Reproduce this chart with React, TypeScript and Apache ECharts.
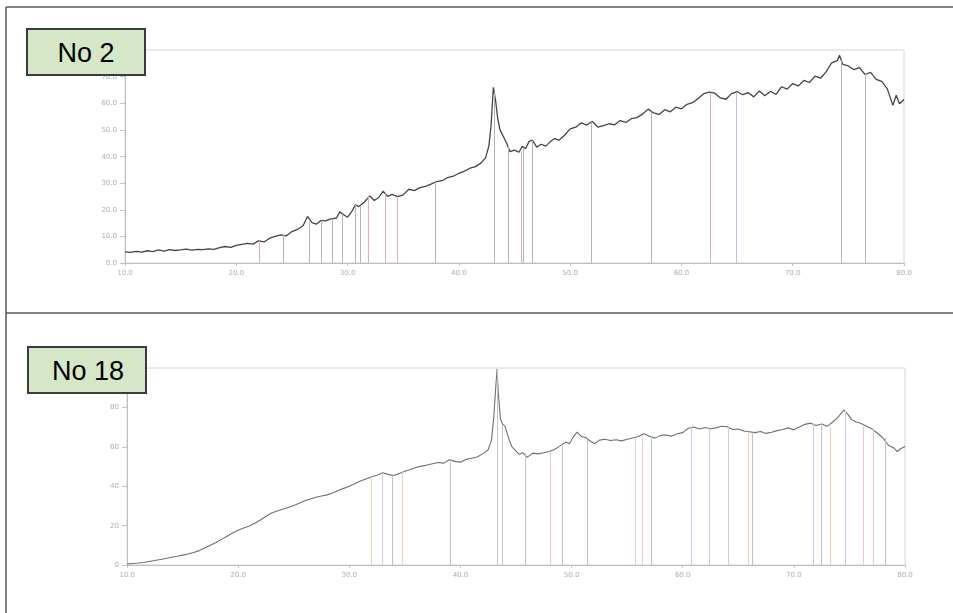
import React, { useEffect, useRef } from "react";
import * as echarts from "echarts";

// ---- No 2 pattern: [2θ, intensity] ----
const pattern2: [number, number][] = [
  [10.0, 4.2], [10.5, 4.0], [11.0, 4.4], [11.5, 4.1], [12.0, 4.6], [12.5, 4.3], [13.0, 4.9], [13.5, 4.5],
  [14.0, 5.0], [14.5, 4.7], [15.0, 4.9], [15.5, 5.2], [16.0, 4.8], [16.5, 5.1], [17.0, 5.0], [17.5, 5.3],
  [18.0, 5.1], [18.5, 5.8], [19.0, 6.2], [19.5, 5.9], [20.0, 6.6], [20.5, 7.0], [21.0, 7.4], [21.5, 7.1],
  [22.0, 8.3], [22.5, 7.9], [23.0, 9.3], [23.5, 10.0], [24.0, 10.6], [24.5, 10.2], [25.0, 11.8], [25.5, 12.6],
  [26.0, 14.0], [26.4, 17.5], [26.8, 15.2], [27.2, 14.6], [27.6, 16.0], [28.0, 15.8], [28.5, 16.6], [29.0, 16.9],
  [29.3, 19.2], [29.7, 18.0], [30.0, 17.2], [30.4, 19.5], [30.7, 21.8], [31.0, 21.2], [31.5, 22.8], [32.0, 25.2],
  [32.4, 23.5], [32.8, 24.6], [33.2, 27.0], [33.6, 25.0], [34.0, 25.8], [34.5, 24.9], [35.0, 25.6], [35.5, 27.7],
  [36.0, 27.2], [36.5, 28.3], [37.0, 28.8], [37.5, 29.6], [38.0, 30.6], [38.5, 30.9], [39.0, 32.1], [39.5, 32.6],
  [40.0, 33.7], [40.5, 34.5], [41.0, 35.6], [41.5, 36.2], [42.0, 37.6], [42.4, 39.5], [42.7, 44.0], [42.9, 52.0],
  [43.1, 66.0], [43.3, 61.0], [43.5, 54.0], [43.7, 50.0], [44.0, 47.5], [44.3, 45.0], [44.6, 41.8], [45.0, 42.4],
  [45.4, 41.6], [45.7, 43.8], [46.0, 42.9], [46.3, 45.6], [46.6, 46.2], [47.0, 43.5], [47.4, 44.6], [47.8, 43.9],
  [48.2, 45.5], [48.6, 46.8], [49.0, 46.1], [49.5, 48.0], [50.0, 50.4], [50.5, 51.0], [51.0, 52.6], [51.5, 51.8],
  [52.0, 53.2], [52.5, 51.0], [53.0, 51.6], [53.5, 52.3], [54.0, 51.9], [54.5, 53.5], [55.0, 52.8], [55.5, 54.2],
  [56.0, 54.6], [56.5, 55.9], [57.0, 57.8], [57.5, 56.4], [58.0, 55.8], [58.5, 57.6], [59.0, 56.8], [59.5, 58.5],
  [60.0, 57.9], [60.5, 59.6], [61.0, 60.2], [61.5, 61.8], [62.0, 63.6], [62.5, 64.2], [63.0, 63.8], [63.5, 62.0],
  [64.0, 61.5], [64.5, 63.6], [65.0, 64.4], [65.5, 63.2], [66.0, 64.0], [66.5, 62.4], [67.0, 64.6], [67.5, 62.8],
  [68.0, 64.5], [68.5, 63.3], [69.0, 66.2], [69.5, 65.3], [70.0, 67.4], [70.5, 66.5], [71.0, 68.6], [71.5, 67.8],
  [72.0, 70.2], [72.5, 69.4], [73.0, 71.8], [73.5, 75.2], [74.0, 76.0], [74.2, 78.0], [74.5, 74.6], [75.0, 74.0],
  [75.5, 72.6], [76.0, 73.4], [76.5, 70.8], [77.0, 71.6], [77.5, 69.0], [78.0, 68.2], [78.5, 65.4], [79.0, 59.2],
  [79.3, 63.0], [79.6, 59.8], [80.0, 61.4],
];

// reference peak positions (No 2): angle, height, phase (0 = main, 1 = second, 2 = third)
const peaks2Angle = [22.1, 24.2, 26.6, 27.6, 28.6, 29.5, 30.7, 31.1, 31.9, 33.4, 34.5, 37.9, 43.2, 44.4, 45.6, 45.8, 46.6, 51.9, 57.3, 62.6, 64.9, 74.4, 76.5];
const peaks2Height = [8.3, 10.5, 15.5, 16.0, 16.7, 18.5, 21.8, 21.5, 25.0, 26.0, 24.9, 30.5, 64.0, 44.0, 42.0, 43.0, 46.0, 53.0, 57.0, 64.0, 64.0, 76.0, 71.0];
const peaks2Phase = [1, 0, 0, 0, 0, 0, 0, 0, 1, 1, 1, 0, 0, 0, 1, 0, 0, 0, 0, 1, 2, 0, 0];

// ---- No 18 pattern ----
const pattern18: [number, number][] = [
  [10.0, 0.5], [10.5, 0.8], [11.0, 1.0], [11.5, 1.3], [12.0, 1.8], [12.5, 2.3], [13.0, 2.8], [13.5, 3.3],
  [14.0, 3.9], [14.5, 4.4], [15.0, 5.0], [15.5, 5.6], [16.0, 6.3], [16.5, 7.3], [17.0, 8.6], [17.5, 10.0],
  [18.0, 11.4], [18.5, 13.0], [19.0, 14.6], [19.5, 16.2], [20.0, 17.6], [20.5, 18.8], [21.0, 19.8], [21.5, 21.2],
  [22.0, 22.8], [22.5, 24.6], [23.0, 26.4], [23.5, 27.4], [24.0, 28.3], [24.5, 29.2], [25.0, 30.2], [25.5, 31.3],
  [26.0, 32.6], [26.5, 33.5], [27.0, 34.4], [27.5, 35.0], [28.0, 35.6], [28.5, 36.6], [29.0, 37.8], [29.5, 38.9],
  [30.0, 40.0], [30.5, 41.3], [31.0, 42.6], [31.5, 43.7], [32.0, 44.8], [32.5, 45.6], [33.0, 46.8], [33.5, 46.0],
  [34.0, 45.4], [34.5, 46.5], [35.0, 47.6], [35.5, 48.5], [36.0, 49.5], [36.5, 50.2], [37.0, 50.8], [37.5, 51.4],
  [38.0, 52.0], [38.5, 51.7], [39.0, 53.4], [39.5, 52.6], [40.0, 52.2], [40.5, 53.6], [41.0, 54.2], [41.5, 54.8],
  [42.0, 56.4], [42.5, 58.5], [42.8, 63.5], [43.0, 75.0], [43.2, 92.0], [43.3, 99.5], [43.4, 88.0], [43.6, 74.0],
  [43.8, 71.5], [44.0, 70.5], [44.3, 65.0], [44.6, 60.2], [45.0, 57.8], [45.3, 56.2], [45.6, 57.0], [46.0, 54.6],
  [46.5, 56.8], [47.0, 56.4], [47.5, 57.0], [48.0, 57.6], [48.5, 58.8], [49.0, 60.6], [49.5, 62.4], [49.8, 61.5],
  [50.2, 65.4], [50.5, 67.4], [50.9, 65.2], [51.3, 64.6], [51.7, 62.8], [52.1, 61.6], [52.5, 63.4], [53.0, 63.8],
  [53.5, 63.2], [54.0, 63.6], [54.5, 63.0], [55.0, 63.8], [55.5, 64.5], [56.0, 65.2], [56.5, 66.6], [57.0, 65.4],
  [57.5, 64.4], [58.0, 65.8], [58.5, 66.0], [59.0, 65.4], [59.5, 66.6], [60.0, 67.2], [60.5, 69.4], [61.0, 70.0],
  [61.5, 69.0], [62.0, 69.8], [62.5, 69.2], [63.0, 69.6], [63.5, 70.4], [64.0, 70.2], [64.5, 68.8], [65.0, 69.0],
  [65.5, 68.0], [66.0, 67.6], [66.5, 67.2], [67.0, 67.8], [67.5, 66.8], [68.0, 67.4], [68.5, 68.2], [69.0, 68.8],
  [69.5, 69.6], [70.0, 68.6], [70.5, 70.0], [71.0, 71.4], [71.5, 72.0], [72.0, 70.8], [72.5, 71.6], [73.0, 70.4],
  [73.5, 72.6], [74.0, 75.2], [74.5, 78.6], [74.8, 77.0], [75.2, 73.8], [75.6, 72.6], [76.0, 72.0], [76.5, 70.6],
  [77.0, 69.2], [77.5, 67.0], [78.0, 64.6], [78.5, 60.8], [79.0, 59.4], [79.3, 57.6], [79.6, 59.0], [80.0, 60.2],
];

const peaks18Angle = [32.0, 33.0, 33.9, 34.8, 39.1, 43.3, 43.8, 45.8, 48.1, 49.2, 51.4, 55.7, 56.4, 57.2, 60.8, 62.4, 64.1, 65.9, 66.3, 71.7, 72.5, 73.3, 74.6, 76.2, 77.1, 78.2];
const peaks18Height = [44.8, 46.8, 45.4, 47.4, 53.4, 99.5, 71.0, 56.8, 57.6, 60.6, 64.0, 64.5, 65.6, 65.4, 70.0, 69.2, 70.2, 67.6, 67.2, 72.0, 71.6, 70.4, 78.4, 71.0, 69.2, 64.6];
const peaks18Phase = [1, 3, 0, 1, 0, 0, 0, 0, 3, 0, 0, 3, 3, 0, 2, 2, 2, 1, 0, 2, 0, 1, 2, 3, 3, 0];

const PHASE2 = ["#b4b4b4", "#dcb0b8", "#b9c4dc"];
const PHASE18 = ["#c4c4c4", "#f2d2b6", "#cacae6", "#efc9d0"];

function stickLines(angles: number[], heights: number[], phases: number[], palette: string[]) {
  return angles.map((a, i) => [
    { coord: [a, 0], lineStyle: { color: palette[phases[i]] } },
    { coord: [a, heights[i]] },
  ]);
}

export default function App() {
  const ref = useRef<HTMLDivElement>(null);
  useEffect(() => {
    document.body.style.margin = "0";
    const chart = echarts.init(ref.current!, null, { renderer: "svg" });
    const axisLabel = { fontSize: 7, color: "#b0b0b0", fontFamily: "DejaVu Sans" };
    const xAxisBase = {
      type: "value" as const,
      min: 10,
      max: 80,
      interval: 10,
      axisLine: { show: true, lineStyle: { color: "#c0c0c0" } },
      axisTick: { show: true, length: 3, lineStyle: { color: "#c4c4c4" } },
      splitLine: { show: false },
      axisLabel: { ...axisLabel, margin: 6, formatter: (v: number) => v.toFixed(1) },
    };
    const yAxisBase = {
      type: "value" as const,
      axisLine: { show: true, lineStyle: { color: "#c0c0c0" } },
      axisTick: { show: true, length: 5, lineStyle: { color: "#c4c4c4" } },
      splitLine: { show: false },
    };
    const option: any = {
      animation: false,
      backgroundColor: "#fff",
      grid: [
        { left: 125, top: 50, width: 779, height: 213, show: true, borderColor: "#d4d4d4", borderWidth: 1, backgroundColor: "transparent" },
        { left: 127, top: 368, width: 778, height: 197, show: true, borderColor: "#d4d4d4", borderWidth: 1, backgroundColor: "transparent" },
      ],
      xAxis: [
        { ...xAxisBase, gridIndex: 0 },
        { ...xAxisBase, gridIndex: 1 },
      ],
      yAxis: [
        {
          ...yAxisBase, gridIndex: 0, min: 0, max: 80, interval: 10,
          axisLabel: { ...axisLabel, margin: 8, showMaxLabel: false, formatter: (v: number) => v.toFixed(1) },
        },
        {
          ...yAxisBase, gridIndex: 1, min: 0, max: 100, interval: 20,
          axisLabel: { ...axisLabel, margin: 8, showMaxLabel: false },
        },
      ],
      series: [
        {
          type: "line", xAxisIndex: 0, yAxisIndex: 0, data: pattern2, showSymbol: false, symbol: "none",
          lineStyle: { color: "#454545", width: 1.3 }, z: 3,
          markLine: {
            silent: true, symbol: ["none", "none"], label: { show: false },
            lineStyle: { type: "solid", width: 1 },
            data: stickLines(peaks2Angle, peaks2Height, peaks2Phase, PHASE2),
          },
        },
        {
          type: "line", xAxisIndex: 1, yAxisIndex: 1, data: pattern18, showSymbol: false, symbol: "none",
          lineStyle: { color: "#707070", width: 1.1 }, z: 3,
          markLine: {
            silent: true, symbol: ["none", "none"], label: { show: false },
            lineStyle: { type: "solid", width: 1 },
            data: stickLines(peaks18Angle, peaks18Height, peaks18Phase, PHASE18),
          },
        },
      ],
      graphic: [
        { type: "line", z: 50, shape: { x1: 6, y1: 7, x2: 953, y2: 7 }, style: { stroke: "#5a5a5a", lineWidth: 1.5 } },
        { type: "line", z: 50, shape: { x1: 6, y1: 7, x2: 6, y2: 613 }, style: { stroke: "#5a5a5a", lineWidth: 1.5 } },
        { type: "line", z: 50, shape: { x1: 6, y1: 313, x2: 953, y2: 313 }, style: { stroke: "#5a5a5a", lineWidth: 1.5 } },
        { type: "rect", z: 100, shape: { x: 27, y: 29, width: 118, height: 46 }, style: { fill: "#d5e7c6", stroke: "#3c3c3c", lineWidth: 2 } },
        {
          type: "text", z: 101, x: 86, y: 53,
          style: { text: "No 2", fontSize: 27, fontFamily: "Liberation Sans", fill: "#000", align: "center", verticalAlign: "middle", textAlign: "center", textVerticalAlign: "middle" },
        },
        { type: "rect", z: 100, shape: { x: 28, y: 347, width: 118, height: 46 }, style: { fill: "#d5e7c6", stroke: "#3c3c3c", lineWidth: 2 } },
        {
          type: "text", z: 101, x: 88, y: 371,
          style: { text: "No 18", fontSize: 27, fontFamily: "Liberation Sans", fill: "#000", align: "center", verticalAlign: "middle", textAlign: "center", textVerticalAlign: "middle" },
        },
      ],
    };
    chart.setOption(option);
    return () => chart.dispose();
  }, []);
  return <div ref={ref} style={{ width: 953, height: 613 }} />;
}
